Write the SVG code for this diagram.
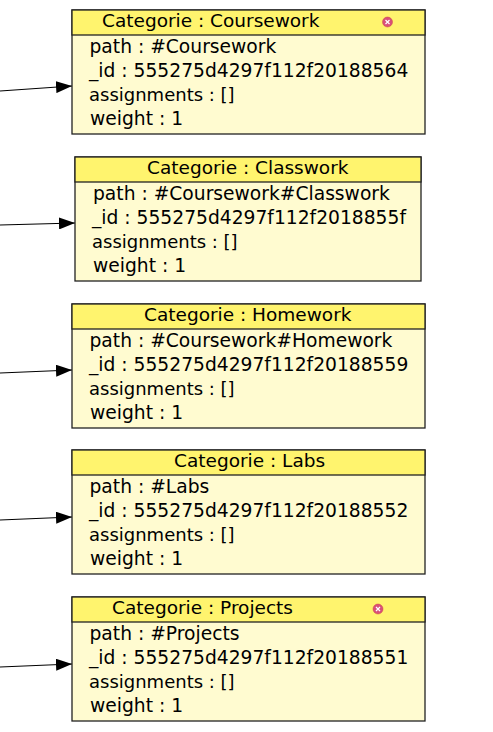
<svg xmlns="http://www.w3.org/2000/svg" width="493" height="732" viewBox="0 0 493 732">
<style>
text{font-family:"DejaVu Sans",sans-serif;font-size:18.7px;fill:#000}
text.t{font-size:18.5px}
text.s{font-size:18px}
.h{fill:#fff46e;stroke:#222;stroke-width:1.3}
.b{fill:#fffbd0;stroke:#222;stroke-width:1.3}
.c{stroke:#000;stroke-width:1.2;fill:none;marker-end:url(#a)}
.x{fill:#d9507a;stroke:#c44;stroke-width:.5}
.y{stroke:#fff;stroke-width:1.2}
</style>
<defs><marker id="a" markerUnits="userSpaceOnUse" markerWidth="16" markerHeight="12" refX="16" refY="6" orient="auto"><path d="M0 0L16 6L0 12Z" fill="#000"/></marker></defs>
<rect width="493" height="732" fill="#fff"/>
<g id="connectors">
<path class="c" d="M0 91L72 86"/>
<path class="c" d="M0 225L75 223"/>
<path class="c" d="M0 373L72 370"/>
<path class="c" d="M0 520L72 517"/>
<path class="c" d="M0 667L72 664"/>
</g>
<g id="coursework">
<rect class="b" x="72" y="10" width="353" height="124"/><rect class="h" x="72" y="10" width="353" height="25"/>
<text class="t" x="102" y="27">Categorie : Coursework</text>
<circle class="x" cx="387.500" cy="22" r="5"/><path class="y" d="M385.500 20l4 4m0-4l-4 4"/>
<text x="89.500" y="53">path : #Coursework</text><text x="89" y="77">_id : 555275d4297f112f20188564</text><text class="s" x="89" y="101">assignments : []</text><text x="90" y="125">weight : 1</text>
</g>
<g id="classwork">
<rect class="b" x="75" y="157" width="346" height="124"/><rect class="h" x="75" y="157" width="346" height="25"/>
<text class="t" x="147" y="174">Categorie : Classwork</text>
<text x="93" y="200">path : #Coursework#Classwork</text><text x="92" y="224">_id : 555275d4297f112f2018855f</text><text class="s" x="92" y="248">assignments : []</text><text x="93" y="272">weight : 1</text>
</g>
<g id="homework">
<rect class="b" x="72" y="304" width="353" height="124"/><rect class="h" x="72" y="304" width="353" height="25"/>
<text class="t" x="144" y="321">Categorie : Homework</text>
<text x="89.500" y="347">path : #Coursework#Homework</text><text x="89" y="371">_id : 555275d4297f112f20188559</text><text class="s" x="89" y="395">assignments : []</text><text x="90" y="419">weight : 1</text>
</g>
<g id="labs">
<rect class="b" x="72" y="450" width="353" height="124"/><rect class="h" x="72" y="450" width="353" height="25"/>
<text class="t" x="174" y="467">Categorie : Labs</text>
<text x="89.500" y="493">path : #Labs</text><text x="89" y="517">_id : 555275d4297f112f20188552</text><text class="s" x="89" y="541">assignments : []</text><text x="90" y="565">weight : 1</text>
</g>
<g id="projects">
<rect class="b" x="72" y="597" width="353" height="124"/><rect class="h" x="72" y="597" width="353" height="25"/>
<text class="t" x="112" y="614">Categorie : Projects</text>
<circle class="x" cx="378" cy="609" r="5"/><path class="y" d="M376 607l4 4m0-4l-4 4"/>
<text x="89.500" y="640">path : #Projects</text><text x="89" y="664">_id : 555275d4297f112f20188551</text><text class="s" x="89" y="688">assignments : []</text><text x="90" y="712">weight : 1</text>
</g>
</svg>
